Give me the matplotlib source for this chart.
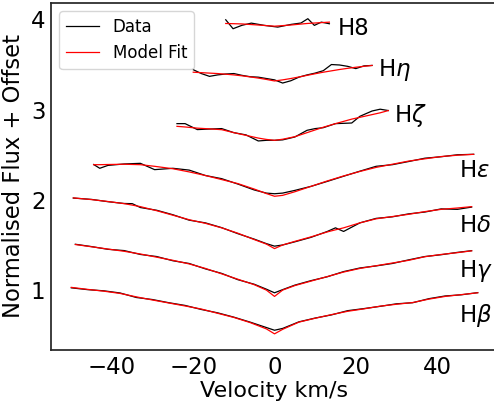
import matplotlib
matplotlib.use("Agg")
import matplotlib.pyplot as plt

# Balmer line profiles (velocity in km/s, flux + offset)

hb_v = [-50, -46, -42, -38, -34, -30, -26, -22, -18, -14, -10, -6, -2, 0, 2, 6, 10, 14, 18, 22, 26, 30, 34, 38, 42, 46, 50]
hb_model = [1.030, 1.008, 0.988, 0.963, 0.925, 0.890, 0.857, 0.824, 0.790, 0.743, 0.697, 0.640, 0.570, 0.515,
            0.565, 0.645, 0.688, 0.728, 0.765, 0.792, 0.822, 0.843, 0.862, 0.900, 0.930, 0.950, 0.970]
hb_data = [1.025, 1.005, 0.992, 0.968, 0.918, 0.895, 0.860, 0.830, 0.785, 0.748, 0.700, 0.645, 0.585, 0.555,
           0.575, 0.648, 0.690, 0.725, 0.772, 0.795, 0.820, 0.848, 0.860, 0.905, 0.935, 0.948, 0.972]

hg_v = [-49, -45, -41, -37, -33, -29, -25, -21, -17, -13, -9, -5, -2, 0, 2, 5, 9, 13, 17, 21, 25, 29, 33, 37, 41, 45, 48.5]
hg_model = [1.505, 1.480, 1.455, 1.430, 1.400, 1.365, 1.330, 1.290, 1.240, 1.180, 1.120, 1.060, 1.000, 0.930,
            1.000, 1.050, 1.100, 1.150, 1.200, 1.240, 1.270, 1.300, 1.330, 1.370, 1.395, 1.415, 1.435]
hg_data = [1.508, 1.482, 1.452, 1.438, 1.395, 1.372, 1.325, 1.295, 1.235, 1.185, 1.115, 1.065, 1.010, 0.970,
           1.005, 1.055, 1.105, 1.148, 1.205, 1.245, 1.268, 1.295, 1.335, 1.372, 1.392, 1.418, 1.437]

hd_v = [-49.5, -45, -41, -37, -35, -33, -29, -25, -21, -17, -13, -9, -5, -2, 0, 2, 5, 9, 13, 15, 17, 21, 25, 29, 33, 37, 41, 45, 48.5]
hd_model = [2.022, 2.003, 1.982, 1.958, 1.942, 1.925, 1.880, 1.830, 1.780, 1.740, 1.690, 1.630, 1.560, 1.510, 1.460,
            1.500, 1.540, 1.590, 1.645, 1.668, 1.690, 1.745, 1.790, 1.815, 1.840, 1.870, 1.895, 1.910, 1.925]
hd_data = [2.020, 2.005, 1.980, 1.960, 1.958, 1.915, 1.885, 1.835, 1.775, 1.745, 1.692, 1.625, 1.565, 1.515, 1.487,
           1.500, 1.535, 1.585, 1.650, 1.690, 1.650, 1.745, 1.795, 1.812, 1.845, 1.865, 1.900, 1.895, 1.920]

he_v = [-44.5, -43, -41, -37, -33, -29.5, -25, -21, -17, -13, -9, -5, -2, 0, 2, 5, 9, 13, 17, 21, 25, 29, 33, 37, 41, 45, 49]
he_model = [2.390, 2.390, 2.392, 2.395, 2.390, 2.372, 2.345, 2.310, 2.270, 2.225, 2.180, 2.120, 2.070, 2.040,
            2.050, 2.090, 2.150, 2.210, 2.265, 2.315, 2.360, 2.395, 2.430, 2.455, 2.480, 2.495, 2.505]
he_data = [2.392, 2.350, 2.382, 2.398, 2.405, 2.335, 2.350, 2.330, 2.270, 2.235, 2.175, 2.110, 2.075, 2.068,
           2.075, 2.105, 2.150, 2.205, 2.262, 2.318, 2.372, 2.390, 2.425, 2.462, 2.478, 2.500, 2.505]

hz_v = [-24, -22, -19, -16, -13, -10, -7, -4, -2, 0, 2, 5, 8, 10, 12, 15, 19, 21, 24, 26, 28]
hz_model = [2.815, 2.808, 2.795, 2.787, 2.778, 2.745, 2.715, 2.685, 2.670, 2.660, 2.672,
            2.700, 2.745, 2.775, 2.805, 2.845, 2.895, 2.915, 2.945, 2.965, 2.990]
hz_data = [2.845, 2.845, 2.779, 2.785, 2.790, 2.745, 2.720, 2.653, 2.660, 2.660, 2.665,
           2.697, 2.771, 2.790, 2.800, 2.845, 2.852, 2.926, 2.985, 3.005, 2.990]

hn_v = [-20, -18, -16, -14, -12, -10, -8, -6, -4, -2, 0, 2, 4, 6, 8, 10, 12, 14, 16, 18, 20, 22, 24]
hn_model = [3.415, 3.410, 3.405, 3.400, 3.393, 3.385, 3.375, 3.363, 3.350, 3.335, 3.318, 3.330,
            3.345, 3.362, 3.380, 3.398, 3.415, 3.430, 3.445, 3.458, 3.470, 3.480, 3.490]
hn_data = [3.443, 3.400, 3.369, 3.385, 3.395, 3.400, 3.380, 3.365, 3.360, 3.345, 3.330, 3.295,
           3.320, 3.360, 3.385, 3.405, 3.432, 3.500, 3.495, 3.480, 3.455, 3.485, 3.490]

h8_v = [-12, -10.2, -8, -5.7, -2.5, 0.8, 4.1, 6.5, 8.2, 9.8, 11.5, 13.5]
h8_data = [3.996, 3.897, 3.935, 3.959, 3.934, 3.915, 3.945, 3.960, 4.008, 3.934, 3.970, 3.952]
h8_mv = [-12, -8, -4, 0, 4, 8, 13.5]
h8_model = [3.955, 3.950, 3.938, 3.925, 3.938, 3.955, 3.970]

line_names = [r'H$\beta$', r'H$\gamma$', r'H$\delta$', r'H$\epsilon$', r'H$\zeta$', r'H$\eta$', 'H8']
label_x = [45.5, 45.5, 45.5, 45.5, 29.5, 25.4, 15.6]
label_y = [0.649, 1.147, 1.645, 2.254, 2.863, 3.369, 3.823]

lines = [
    (hb_v, hb_data, hb_v, hb_model),
    (hg_v, hg_data, hg_v, hg_model),
    (hd_v, hd_data, hd_v, hd_model),
    (he_v, he_data, he_v, he_model),
    (hz_v, hz_data, hz_v, hz_model),
    (hn_v, hn_data, hn_v, hn_model),
    (h8_v, h8_data, h8_mv, h8_model),
]

plt.rcParams['font.size'] = 16
plt.rcParams['axes.edgecolor'] = '0.15'
plt.rcParams['axes.linewidth'] = 1.25

fig = plt.figure(figsize=(4.94, 4.05), dpi=100)
ax = fig.add_axes([0.1032, 0.1358, 0.905, 0.857])

for i, (dv, df, mv, mf) in enumerate(lines):
    ax.plot(dv, df, color='black', lw=0.9, label='Data' if i == 0 else None)
    ax.plot(mv, mf, color='red', lw=0.9, label='Model Fit' if i == 0 else None)
    ax.text(label_x[i], label_y[i], line_names[i], fontsize=16.5, ha='left', va='baseline')

ax.set_xlim(-55, 55)
ax.set_ylim(0.336, 4.183)
ax.tick_params(length=0, labelsize=16.5, pad=4)
ax.set_xlabel('Velocity km/s', fontsize=16, labelpad=2)
ax.set_ylabel('Normalised Flux + Offset', fontsize=16.3, labelpad=4)
ax.spines['right'].set_visible(False)
ax.legend(loc='upper left', fontsize=12)

fig.savefig('out.png', dpi=100)
